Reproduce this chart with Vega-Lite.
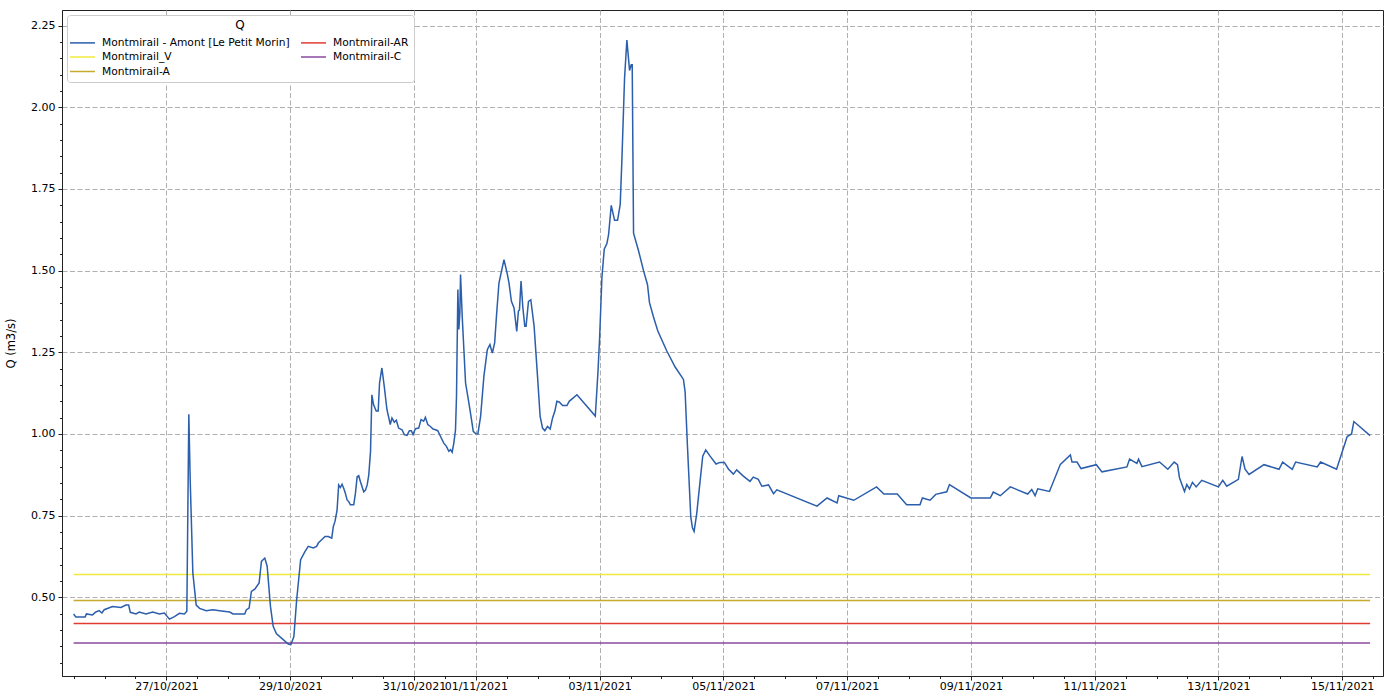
{
  "$schema": "https://vega.github.io/schema/vega-lite/v6.json",
  "autosize": {"type": "none"},
  "padding": {"left": 62, "top": 10, "right": 8, "bottom": 17},
  "width": 1321,
  "height": 666,
  "background": "white",
  "config": {
    "font": "DejaVu Sans",
    "view": {"stroke": "#222222", "strokeWidth": 1},
    "axis": {"labelColor": "#000000", "titleColor": "#000000", "tickColor": "#222222", "domainColor": "#222222", "gridColor": "#b0b0b0", "gridDash": [5, 2.5], "gridWidth": 1}
  },
  "datasets": {
    "thresholds": [
      {"s": "Montmirail_V", "q": 0.57, "t0": "2021-10-25T12:00:00", "t1": "2021-11-15T10:50:00"},
      {"s": "Montmirail-A", "q": 0.49, "t0": "2021-10-25T12:00:00", "t1": "2021-11-15T10:50:00"},
      {"s": "Montmirail-AR", "q": 0.42, "t0": "2021-10-25T12:00:00", "t1": "2021-11-15T10:50:00"},
      {"s": "Montmirail-C", "q": 0.36, "t0": "2021-10-25T12:00:00", "t1": "2021-11-15T10:50:00"}
    ],
    "amont": [
      {"t": "2021-10-25T12:00:00", "q": 0.449},
      {"t": "2021-10-25T12:51:00", "q": 0.44},
      {"t": "2021-10-25T16:28:00", "q": 0.44},
      {"t": "2021-10-25T16:59:00", "q": 0.449},
      {"t": "2021-10-25T19:19:00", "q": 0.446},
      {"t": "2021-10-25T20:38:00", "q": 0.455},
      {"t": "2021-10-25T21:55:00", "q": 0.459},
      {"t": "2021-10-25T22:58:00", "q": 0.452},
      {"t": "2021-10-25T23:52:00", "q": 0.462},
      {"t": "2021-10-26T03:07:00", "q": 0.472},
      {"t": "2021-10-26T06:21:00", "q": 0.469},
      {"t": "2021-10-26T08:18:00", "q": 0.476},
      {"t": "2021-10-26T09:21:00", "q": 0.476},
      {"t": "2021-10-26T09:59:00", "q": 0.454},
      {"t": "2021-10-26T12:11:00", "q": 0.449},
      {"t": "2021-10-26T13:28:00", "q": 0.455},
      {"t": "2021-10-26T16:06:00", "q": 0.449},
      {"t": "2021-10-26T18:41:00", "q": 0.455},
      {"t": "2021-10-26T21:16:00", "q": 0.449},
      {"t": "2021-10-26T23:13:00", "q": 0.452},
      {"t": "2021-10-27T01:10:00", "q": 0.433},
      {"t": "2021-10-27T03:07:00", "q": 0.441},
      {"t": "2021-10-27T05:04:00", "q": 0.451},
      {"t": "2021-10-27T07:00:00", "q": 0.449},
      {"t": "2021-10-27T07:55:00", "q": 0.457},
      {"t": "2021-10-27T08:41:00", "q": 1.06},
      {"t": "2021-10-27T09:13:00", "q": 0.86},
      {"t": "2021-10-27T10:15:00", "q": 0.574},
      {"t": "2021-10-27T11:33:00", "q": 0.476},
      {"t": "2021-10-27T12:51:00", "q": 0.466},
      {"t": "2021-10-27T15:27:00", "q": 0.459},
      {"t": "2021-10-27T18:02:00", "q": 0.462},
      {"t": "2021-10-27T20:38:00", "q": 0.459},
      {"t": "2021-10-28T00:32:00", "q": 0.455},
      {"t": "2021-10-28T01:49:00", "q": 0.449},
      {"t": "2021-10-28T06:22:00", "q": 0.449},
      {"t": "2021-10-28T07:01:00", "q": 0.462},
      {"t": "2021-10-28T08:04:00", "q": 0.467},
      {"t": "2021-10-28T08:57:00", "q": 0.518},
      {"t": "2021-10-28T10:16:00", "q": 0.525},
      {"t": "2021-10-28T11:57:00", "q": 0.544},
      {"t": "2021-10-28T12:51:00", "q": 0.61},
      {"t": "2021-10-28T14:09:00", "q": 0.62},
      {"t": "2021-10-28T15:04:00", "q": 0.595},
      {"t": "2021-10-28T16:21:00", "q": 0.472},
      {"t": "2021-10-28T17:24:00", "q": 0.411},
      {"t": "2021-10-28T18:41:00", "q": 0.388},
      {"t": "2021-10-28T20:38:00", "q": 0.375},
      {"t": "2021-10-28T23:15:00", "q": 0.357},
      {"t": "2021-10-29T00:16:00", "q": 0.355},
      {"t": "2021-10-29T01:26:00", "q": 0.38},
      {"t": "2021-10-29T02:29:00", "q": 0.49},
      {"t": "2021-10-29T04:03:00", "q": 0.615},
      {"t": "2021-10-29T05:43:00", "q": 0.64},
      {"t": "2021-10-29T07:00:00", "q": 0.656},
      {"t": "2021-10-29T08:57:00", "q": 0.651},
      {"t": "2021-10-29T10:16:00", "q": 0.656},
      {"t": "2021-10-29T10:54:00", "q": 0.666},
      {"t": "2021-10-29T12:13:00", "q": 0.676},
      {"t": "2021-10-29T13:31:00", "q": 0.686},
      {"t": "2021-10-29T14:48:00", "q": 0.686},
      {"t": "2021-10-29T16:07:00", "q": 0.681},
      {"t": "2021-10-29T16:44:00", "q": 0.717},
      {"t": "2021-10-29T17:24:00", "q": 0.733},
      {"t": "2021-10-29T18:11:00", "q": 0.767},
      {"t": "2021-10-29T18:48:00", "q": 0.844},
      {"t": "2021-10-29T19:28:00", "q": 0.836},
      {"t": "2021-10-29T20:07:00", "q": 0.846},
      {"t": "2021-10-29T20:45:00", "q": 0.834},
      {"t": "2021-10-29T21:25:00", "q": 0.818},
      {"t": "2021-10-29T22:04:00", "q": 0.798},
      {"t": "2021-10-29T22:42:00", "q": 0.793},
      {"t": "2021-10-29T23:21:00", "q": 0.783},
      {"t": "2021-10-30T00:39:00", "q": 0.783},
      {"t": "2021-10-30T01:18:00", "q": 0.818},
      {"t": "2021-10-30T01:58:00", "q": 0.869},
      {"t": "2021-10-30T02:35:00", "q": 0.872},
      {"t": "2021-10-30T03:15:00", "q": 0.854},
      {"t": "2021-10-30T04:32:00", "q": 0.823},
      {"t": "2021-10-30T05:12:00", "q": 0.828},
      {"t": "2021-10-30T05:52:00", "q": 0.844},
      {"t": "2021-10-30T06:29:00", "q": 0.875},
      {"t": "2021-10-30T07:09:00", "q": 0.946},
      {"t": "2021-10-30T07:41:00", "q": 1.12},
      {"t": "2021-10-30T08:19:00", "q": 1.09},
      {"t": "2021-10-30T09:22:00", "q": 1.07},
      {"t": "2021-10-30T10:08:00", "q": 1.07},
      {"t": "2021-10-30T10:39:00", "q": 1.156},
      {"t": "2021-10-30T11:34:00", "q": 1.202},
      {"t": "2021-10-30T12:29:00", "q": 1.146},
      {"t": "2021-10-30T13:31:00", "q": 1.075},
      {"t": "2021-10-30T14:49:00", "q": 1.029},
      {"t": "2021-10-30T15:28:00", "q": 1.049},
      {"t": "2021-10-30T16:22:00", "q": 1.036},
      {"t": "2021-10-30T17:09:00", "q": 1.042},
      {"t": "2021-10-30T18:03:00", "q": 1.018},
      {"t": "2021-10-30T19:22:00", "q": 1.013},
      {"t": "2021-10-30T20:16:00", "q": 0.998},
      {"t": "2021-10-30T21:18:00", "q": 0.996},
      {"t": "2021-10-30T22:13:00", "q": 1.01},
      {"t": "2021-10-30T22:59:00", "q": 1.01},
      {"t": "2021-10-30T23:39:00", "q": 0.998},
      {"t": "2021-10-31T00:33:00", "q": 1.016},
      {"t": "2021-10-31T01:50:00", "q": 1.018},
      {"t": "2021-10-31T02:45:00", "q": 1.044},
      {"t": "2021-10-31T03:47:00", "q": 1.039},
      {"t": "2021-10-31T04:26:00", "q": 1.051},
      {"t": "2021-10-31T05:21:00", "q": 1.029},
      {"t": "2021-10-31T06:23:00", "q": 1.023},
      {"t": "2021-10-31T07:25:00", "q": 1.015},
      {"t": "2021-10-31T08:19:00", "q": 1.013},
      {"t": "2021-10-31T09:14:00", "q": 1.01},
      {"t": "2021-10-31T10:16:00", "q": 0.993},
      {"t": "2021-10-31T11:34:00", "q": 0.972},
      {"t": "2021-10-31T12:36:00", "q": 0.962},
      {"t": "2021-10-31T13:31:00", "q": 0.947},
      {"t": "2021-10-31T14:10:00", "q": 0.952},
      {"t": "2021-10-31T14:49:00", "q": 0.944},
      {"t": "2021-10-31T15:28:00", "q": 0.972},
      {"t": "2021-10-31T16:07:00", "q": 1.013},
      {"t": "2021-10-31T16:30:00", "q": 1.115},
      {"t": "2021-10-31T17:02:00", "q": 1.442},
      {"t": "2021-10-31T17:25:00", "q": 1.32},
      {"t": "2021-10-31T17:48:00", "q": 1.37},
      {"t": "2021-10-31T18:04:00", "q": 1.488},
      {"t": "2021-10-31T18:43:00", "q": 1.36},
      {"t": "2021-10-31T19:22:00", "q": 1.258},
      {"t": "2021-10-31T20:01:00", "q": 1.156},
      {"t": "2021-10-31T21:18:00", "q": 1.095},
      {"t": "2021-10-31T22:13:00", "q": 1.049},
      {"t": "2021-10-31T23:00:00", "q": 1.008},
      {"t": "2021-10-31T23:54:00", "q": 1.001},
      {"t": "2021-11-01T00:48:00", "q": 1.0},
      {"t": "2021-11-01T01:51:00", "q": 1.054},
      {"t": "2021-11-01T03:08:00", "q": 1.177},
      {"t": "2021-11-01T04:27:00", "q": 1.258},
      {"t": "2021-11-01T05:28:00", "q": 1.274},
      {"t": "2021-11-01T06:24:00", "q": 1.248},
      {"t": "2021-11-01T07:18:00", "q": 1.279},
      {"t": "2021-11-01T08:05:00", "q": 1.37},
      {"t": "2021-11-01T08:58:00", "q": 1.462},
      {"t": "2021-11-01T10:55:00", "q": 1.534},
      {"t": "2021-11-01T12:15:00", "q": 1.488},
      {"t": "2021-11-01T12:52:00", "q": 1.462},
      {"t": "2021-11-01T13:48:00", "q": 1.406},
      {"t": "2021-11-01T14:49:00", "q": 1.386},
      {"t": "2021-11-01T15:52:00", "q": 1.314},
      {"t": "2021-11-01T16:31:00", "q": 1.376},
      {"t": "2021-11-01T16:55:00", "q": 1.38},
      {"t": "2021-11-01T17:32:00", "q": 1.468},
      {"t": "2021-11-01T18:12:00", "q": 1.39},
      {"t": "2021-11-01T18:59:00", "q": 1.33},
      {"t": "2021-11-01T19:29:00", "q": 1.33},
      {"t": "2021-11-01T20:25:00", "q": 1.406},
      {"t": "2021-11-01T21:19:00", "q": 1.411},
      {"t": "2021-11-01T22:36:00", "q": 1.33},
      {"t": "2021-11-01T23:55:00", "q": 1.177},
      {"t": "2021-11-02T00:56:00", "q": 1.054},
      {"t": "2021-11-02T01:52:00", "q": 1.018},
      {"t": "2021-11-02T02:46:00", "q": 1.01},
      {"t": "2021-11-02T03:49:00", "q": 1.023},
      {"t": "2021-11-02T04:50:00", "q": 1.015},
      {"t": "2021-11-02T05:46:00", "q": 1.049},
      {"t": "2021-11-02T06:39:00", "q": 1.07},
      {"t": "2021-11-02T07:26:00", "q": 1.1},
      {"t": "2021-11-02T08:20:00", "q": 1.098},
      {"t": "2021-11-02T09:39:00", "q": 1.087},
      {"t": "2021-11-02T11:20:00", "q": 1.087},
      {"t": "2021-11-02T12:13:00", "q": 1.1},
      {"t": "2021-11-02T15:13:00", "q": 1.12},
      {"t": "2021-11-02T22:20:00", "q": 1.055},
      {"t": "2021-11-02T23:20:00", "q": 1.185},
      {"t": "2021-11-03T00:00:00", "q": 1.293},
      {"t": "2021-11-03T00:54:00", "q": 1.479},
      {"t": "2021-11-03T01:48:00", "q": 1.566},
      {"t": "2021-11-03T02:50:00", "q": 1.583},
      {"t": "2021-11-03T03:29:00", "q": 1.61},
      {"t": "2021-11-03T04:31:00", "q": 1.7},
      {"t": "2021-11-03T05:48:00", "q": 1.654},
      {"t": "2021-11-03T06:58:00", "q": 1.654},
      {"t": "2021-11-03T08:00:00", "q": 1.703},
      {"t": "2021-11-03T08:39:00", "q": 1.84},
      {"t": "2021-11-03T09:41:00", "q": 2.09},
      {"t": "2021-11-03T10:35:00", "q": 2.206},
      {"t": "2021-11-03T11:37:00", "q": 2.113},
      {"t": "2021-11-03T12:16:00", "q": 2.13},
      {"t": "2021-11-03T12:39:00", "q": 2.13},
      {"t": "2021-11-03T13:10:00", "q": 1.615},
      {"t": "2021-11-03T15:06:00", "q": 1.561},
      {"t": "2021-11-03T17:02:00", "q": 1.5},
      {"t": "2021-11-03T18:35:00", "q": 1.457},
      {"t": "2021-11-03T19:21:00", "q": 1.402},
      {"t": "2021-11-03T20:54:00", "q": 1.358},
      {"t": "2021-11-03T22:35:00", "q": 1.315},
      {"t": "2021-11-04T02:04:00", "q": 1.254},
      {"t": "2021-11-04T05:18:00", "q": 1.205},
      {"t": "2021-11-04T08:31:00", "q": 1.167},
      {"t": "2021-11-04T09:10:00", "q": 1.129},
      {"t": "2021-11-04T10:04:00", "q": 0.964},
      {"t": "2021-11-04T11:22:00", "q": 0.746},
      {"t": "2021-11-04T12:00:00", "q": 0.713},
      {"t": "2021-11-04T12:39:00", "q": 0.702},
      {"t": "2021-11-04T13:41:00", "q": 0.757},
      {"t": "2021-11-04T14:58:00", "q": 0.855},
      {"t": "2021-11-04T16:00:00", "q": 0.932},
      {"t": "2021-11-04T17:10:00", "q": 0.951},
      {"t": "2021-11-04T18:51:00", "q": 0.932},
      {"t": "2021-11-04T21:10:00", "q": 0.908},
      {"t": "2021-11-04T22:43:00", "q": 0.913},
      {"t": "2021-11-05T00:24:00", "q": 0.913},
      {"t": "2021-11-05T01:57:00", "q": 0.893},
      {"t": "2021-11-05T03:53:00", "q": 0.877},
      {"t": "2021-11-05T05:10:00", "q": 0.89},
      {"t": "2021-11-05T07:45:00", "q": 0.871},
      {"t": "2021-11-05T10:20:00", "q": 0.855},
      {"t": "2021-11-05T11:37:00", "q": 0.868},
      {"t": "2021-11-05T13:33:00", "q": 0.861},
      {"t": "2021-11-05T14:55:00", "q": 0.84},
      {"t": "2021-11-05T17:31:00", "q": 0.844},
      {"t": "2021-11-05T19:27:00", "q": 0.817},
      {"t": "2021-11-05T20:45:00", "q": 0.829},
      {"t": "2021-11-06T12:19:00", "q": 0.779},
      {"t": "2021-11-06T16:13:00", "q": 0.804},
      {"t": "2021-11-06T20:06:00", "q": 0.789},
      {"t": "2021-11-06T20:45:00", "q": 0.811},
      {"t": "2021-11-07T02:35:00", "q": 0.797},
      {"t": "2021-11-07T11:25:00", "q": 0.838},
      {"t": "2021-11-07T14:16:00", "q": 0.816},
      {"t": "2021-11-07T19:27:00", "q": 0.816},
      {"t": "2021-11-07T23:05:00", "q": 0.783},
      {"t": "2021-11-08T04:16:00", "q": 0.783},
      {"t": "2021-11-08T05:11:00", "q": 0.804},
      {"t": "2021-11-08T08:10:00", "q": 0.797},
      {"t": "2021-11-08T10:22:00", "q": 0.815},
      {"t": "2021-11-08T14:39:00", "q": 0.823},
      {"t": "2021-11-08T15:41:00", "q": 0.845},
      {"t": "2021-11-09T00:00:00", "q": 0.804},
      {"t": "2021-11-09T07:31:00", "q": 0.804},
      {"t": "2021-11-09T08:41:00", "q": 0.822},
      {"t": "2021-11-09T11:24:00", "q": 0.811},
      {"t": "2021-11-09T15:18:00", "q": 0.838},
      {"t": "2021-11-09T22:02:00", "q": 0.816},
      {"t": "2021-11-09T23:36:00", "q": 0.83},
      {"t": "2021-11-10T00:54:00", "q": 0.811},
      {"t": "2021-11-10T01:56:00", "q": 0.832},
      {"t": "2021-11-10T06:28:00", "q": 0.824},
      {"t": "2021-11-10T10:42:00", "q": 0.907},
      {"t": "2021-11-10T14:35:00", "q": 0.936},
      {"t": "2021-11-10T15:13:00", "q": 0.914},
      {"t": "2021-11-10T17:10:00", "q": 0.914},
      {"t": "2021-11-10T18:43:00", "q": 0.894},
      {"t": "2021-11-11T00:39:00", "q": 0.906},
      {"t": "2021-11-11T02:50:00", "q": 0.884},
      {"t": "2021-11-11T12:31:00", "q": 0.899},
      {"t": "2021-11-11T13:33:00", "q": 0.923},
      {"t": "2021-11-11T16:23:00", "q": 0.91},
      {"t": "2021-11-11T17:02:00", "q": 0.923},
      {"t": "2021-11-11T18:20:00", "q": 0.9},
      {"t": "2021-11-12T01:10:00", "q": 0.914},
      {"t": "2021-11-12T04:23:00", "q": 0.892},
      {"t": "2021-11-12T06:51:00", "q": 0.914},
      {"t": "2021-11-12T08:08:00", "q": 0.906},
      {"t": "2021-11-12T08:54:00", "q": 0.866},
      {"t": "2021-11-12T10:51:00", "q": 0.824},
      {"t": "2021-11-12T11:45:00", "q": 0.845},
      {"t": "2021-11-12T12:47:00", "q": 0.832},
      {"t": "2021-11-12T13:56:00", "q": 0.852},
      {"t": "2021-11-12T15:22:00", "q": 0.838},
      {"t": "2021-11-12T17:33:00", "q": 0.858},
      {"t": "2021-11-13T00:00:00", "q": 0.838},
      {"t": "2021-11-13T01:41:00", "q": 0.858},
      {"t": "2021-11-13T03:14:00", "q": 0.84},
      {"t": "2021-11-13T07:45:00", "q": 0.861},
      {"t": "2021-11-13T09:10:00", "q": 0.931},
      {"t": "2021-11-13T10:20:00", "q": 0.892},
      {"t": "2021-11-13T11:53:00", "q": 0.876},
      {"t": "2021-11-13T17:41:00", "q": 0.906},
      {"t": "2021-11-13T23:30:00", "q": 0.892},
      {"t": "2021-11-14T00:55:00", "q": 0.914},
      {"t": "2021-11-14T04:39:00", "q": 0.892},
      {"t": "2021-11-14T05:57:00", "q": 0.914},
      {"t": "2021-11-14T14:20:00", "q": 0.899},
      {"t": "2021-11-14T15:37:00", "q": 0.914},
      {"t": "2021-11-14T21:49:00", "q": 0.892},
      {"t": "2021-11-15T01:57:00", "q": 0.992},
      {"t": "2021-11-15T03:38:00", "q": 1.0},
      {"t": "2021-11-15T04:32:00", "q": 1.038},
      {"t": "2021-11-15T10:50:00", "q": 0.995}
    ]
  },
  "layer": [
    {
      "data": {"name": "thresholds"},
      "mark": {"type": "rule", "strokeWidth": 1.5},
      "encoding": {
        "x": {"field": "t0", "type": "temporal",
          "scale": {"domain": [{"year": 2021, "month": 10, "date": 25, "hours": 7, "minutes": 30}, {"year": 2021, "month": 11, "date": 15, "hours": 15, "minutes": 50}]},
          "axis": {"orient": "bottom", "title": null, "labelAngle": 0, "labelFontSize": 11, "labelOverlap": false, "labelFlush": false, "labelPadding": 0, "grid": true, "domain": true,
            "tickCount": 42,
            "labelExpr": "(hours(datum.value) == 0 && date(datum.value) % 2 == 1) ? timeFormat(datum.value, '%d/%m/%Y') : ''",
            "tickSize": {"condition": {"test": "hours(datum.value) == 0 && date(datum.value) % 2 == 1", "value": 4}, "value": 2.5},
            "gridOpacity": {"condition": {"test": "hours(datum.value) == 0 && date(datum.value) % 2 == 1", "value": 1}, "value": 0}}},
        "x2": {"field": "t1"},
        "y": {"field": "q", "type": "quantitative",
          "scale": {"domain": [0.259, 2.298], "nice": false, "zero": false},
          "axis": {"orient": "left", "title": "Q (m3/s)", "titleFontWeight": "normal", "titleFontSize": 11.5, "titlePadding": 14, "labelFontSize": 11, "labelPadding": 3, "labelOverlap": false, "grid": true, "domain": true,
            "tickCount": 60,
            "values": [0.3, 0.35, 0.4, 0.45, 0.5, 0.55, 0.6, 0.65, 0.7, 0.75, 0.8, 0.85, 0.9, 0.95, 1.0, 1.05, 1.1, 1.15, 1.2, 1.25, 1.3, 1.35, 1.4, 1.45, 1.5, 1.55, 1.6, 1.65, 1.7, 1.75, 1.8, 1.85, 1.9, 1.95, 2.0, 2.05, 2.1, 2.15, 2.2, 2.25],
            "labelExpr": "indexof([0.5, 0.75, 1, 1.25, 1.5, 1.75, 2, 2.25], datum.value) >= 0 ? format(datum.value, '.2f') : ''",
            "tickSize": {"condition": {"test": "indexof([0.5, 0.75, 1, 1.25, 1.5, 1.75, 2, 2.25], datum.value) >= 0", "value": 4}, "value": 2.5},
            "gridOpacity": {"condition": {"test": "indexof([0.5, 0.75, 1, 1.25, 1.5, 1.75, 2, 2.25], datum.value) >= 0", "value": 1}, "value": 0}}},
        "color": {"field": "s", "type": "nominal",
          "scale": {
            "domain": ["Montmirail - Amont [Le Petit Morin]", "Montmirail_V", "Montmirail-A", "Montmirail-AR", "Montmirail-C"],
            "range": ["#2b5eab", "#f0ea3c", "#c5aa2e", "#e03c31", "#8b4aa0"]},
          "legend": {"title": "Q", "orient": "top-left", "offset": 5, "columns": 2, "columnPadding": 7, "rowPadding": 0.5,
            "symbolType": "M-1.67,0H1.67", "symbolSize": 225, "symbolStrokeWidth": 1.5, "symbolOffset": 2, "labelOffset": 11, "labelFontSize": 10.7, "labelLimit": 400, "labelColor": "#000000",
            "titleFontSize": 12, "titleFontWeight": "normal", "titleAnchor": "middle", "titlePadding": 2, "titleColor": "#000000",
            "fillColor": "white", "strokeColor": "#cccccc", "cornerRadius": 3, "padding": 5}}
      }
    },
    {
      "data": {"name": "amont"},
      "mark": {"type": "line", "strokeWidth": 1.5},
      "encoding": {
        "x": {"field": "t", "type": "temporal"},
        "y": {"field": "q", "type": "quantitative"},
        "color": {"datum": "Montmirail - Amont [Le Petit Morin]"}
      }
    }
  ]
}
